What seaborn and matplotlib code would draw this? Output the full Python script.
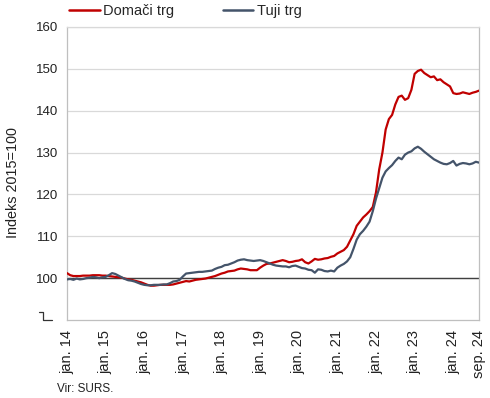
import numpy as np
import pandas as pd
import matplotlib
matplotlib.use("Agg")
import matplotlib.pyplot as plt
import seaborn as sns
from matplotlib.lines import Line2D

# ---- data (monthly, jan. 2014 - sep. 2024) ----
domaci = [
    101.2, 100.7, 100.5, 100.5, 100.5, 100.6, 100.6, 100.6, 100.7, 100.7, 100.7, 100.6,
    100.6, 100.5, 100.4, 100.3, 100.2, 100.1, 99.9, 99.7, 99.6, 99.4, 99.2, 99.0,
    98.7, 98.4, 98.2, 98.2, 98.3, 98.4, 98.4, 98.4, 98.4, 98.5, 98.7, 98.9,
    99.1, 99.3, 99.2, 99.4, 99.6, 99.7, 99.8, 99.9, 100.1, 100.3, 100.5, 100.8,
    101.1, 101.3, 101.6, 101.7, 101.8, 102.1, 102.3, 102.2, 102.1, 101.9, 101.9, 101.9,
    102.5, 103.0, 103.4, 103.5, 103.7, 103.9, 104.1, 104.3, 104.1, 103.8, 103.9, 104.1,
    104.2, 104.5, 103.8, 103.5, 104.0, 104.6, 104.4, 104.5, 104.7, 104.8, 105.1, 105.3,
    105.9, 106.3, 106.7, 107.5, 109.0, 110.5, 112.5, 113.5, 114.5, 115.2, 116.0, 117.0,
    120.5, 126.0, 130.0, 135.5, 138.0, 139.0, 141.5, 143.3, 143.6, 142.6, 143.0, 145.0,
    148.8, 149.5, 149.8, 149.0, 148.5, 148.0, 148.2, 147.3, 147.5, 146.8, 146.3, 145.8,
    144.2, 144.0, 144.1, 144.4, 144.2, 144.0, 144.3, 144.5, 144.8,
]
tuji = [
    99.7, 99.8, 99.6, 99.9, 99.7, 99.8, 100.0, 100.1, 100.3, 100.2, 100.0, 100.2,
    100.3, 100.7, 101.2, 101.0, 100.6, 100.2, 99.8, 99.5, 99.4, 99.2, 98.9, 98.6,
    98.4, 98.3, 98.3, 98.4, 98.4, 98.4, 98.5, 98.5, 98.8, 99.2, 99.3, 99.6,
    100.4, 101.1, 101.2, 101.3, 101.4, 101.5, 101.5, 101.6, 101.7, 101.8, 102.2, 102.5,
    102.7, 103.1, 103.2, 103.5, 103.8, 104.2, 104.4, 104.5, 104.3, 104.2, 104.1, 104.2,
    104.3, 104.1, 103.8, 103.5, 103.2, 103.0, 102.9, 102.8, 102.8, 102.6, 102.9, 103.0,
    102.7, 102.4, 102.3, 102.0, 101.9, 101.3, 102.1, 102.0, 101.7, 101.6, 101.8, 101.6,
    102.5, 103.0, 103.4, 104.0, 105.0, 107.0, 109.2, 110.5, 111.3, 112.3, 113.5, 116.0,
    119.0, 121.5, 124.0, 125.5, 126.3, 127.0, 128.0, 128.8, 128.4, 129.5, 130.0, 130.3,
    131.0, 131.4, 130.9, 130.2, 129.6, 129.0, 128.4, 128.0, 127.6, 127.3, 127.2, 127.5,
    128.0, 126.9, 127.3, 127.5, 127.4, 127.2, 127.4, 127.8, 127.6,
]
series_names = ["Domači trg", "Tuji trg"]
tick_months = [0, 12, 24, 36, 48, 60, 72, 84, 96, 108, 120, 128]
tick_labels = ["jan. 14", "jan. 15", "jan. 16", "jan. 17", "jan. 18", "jan. 19",
               "jan. 20", "jan. 21", "jan. 22", "jan. 23", "jan. 24", "sep. 24"]
y_ticks = [100, 110, 120, 130, 140, 150, 160]

months = np.arange(len(domaci))
df = pd.DataFrame({
    "mesec": np.concatenate([months, months]),
    "indeks": domaci + tuji,
    "serija": [series_names[0]] * len(domaci) + [series_names[1]] * len(tuji),
})

sns.set_theme(style="white")
plt.rcParams["font.family"] = ["Liberation Sans", "DejaVu Sans"]

fig = plt.figure(figsize=(4.9, 3.98), dpi=100)
ax = fig.add_axes([67 / 490, 1 - 320 / 398, 412 / 490, 293 / 398])

red = "#C00000"
navy = "#44546A"
ax.axhline(100, color="#404040", lw=1.0, zorder=1)
sns.lineplot(data=df, x="mesec", y="indeks", hue="serija",
             palette={series_names[0]: red, series_names[1]: navy},
             lw=1.6, ax=ax, legend=False, zorder=3)

ax.set_xlim(0, 128)
ax.set_ylim(90, 160)
ax.set_yticks(y_ticks)
ax.set_yticklabels([str(v) for v in y_ticks], fontsize=9.5, color="#222222")
ax.set_xticks(tick_months)
ax.set_xticklabels(tick_labels, rotation=90, fontsize=10.5, color="#222222")
ax.tick_params(axis="y", length=0, pad=6)
ax.tick_params(axis="x", length=3, width=0.8, color="#bfbfbf", pad=4, direction="out")
ax.grid(axis="y", color="#d9d9d9", lw=0.9)
ax.set_xlabel("")
ax.set_ylabel("Indeks 2015=100", fontsize=10.4, color="#222222")
ax.yaxis.set_label_coords(-0.115, 0.469)
for s in ax.spines.values():
    s.set_color("#bfbfbf")
    s.set_linewidth(0.9)
ax.spines["top"].set_color("#d9d9d9")

# axis break marker
brk = Line2D([39 / 490, 43 / 490, 43 / 490, 52 / 490],
             [1 - 311.5 / 398, 1 - 311.5 / 398, 1 - 320 / 398, 1 - 320 / 398],
             transform=fig.transFigure, color="#333333", lw=0.9)
fig.add_artist(brk)

handles = [Line2D([], [], color=red, lw=1.8), Line2D([], [], color=navy, lw=1.8)]
fig.legend(handles, series_names, loc="center left", bbox_to_anchor=(69 / 490, 1 - 11 / 398),
           ncol=2, frameon=False, fontsize=10.5, handlelength=2.1, handletextpad=0.25,
           columnspacing=3.3, borderaxespad=0, borderpad=0)

fig.text(57 / 490, 1 - 389 / 398, "Vir: SURS.", fontsize=8.5, color="#222222", va="center")

fig.savefig("out.png", dpi=100)
